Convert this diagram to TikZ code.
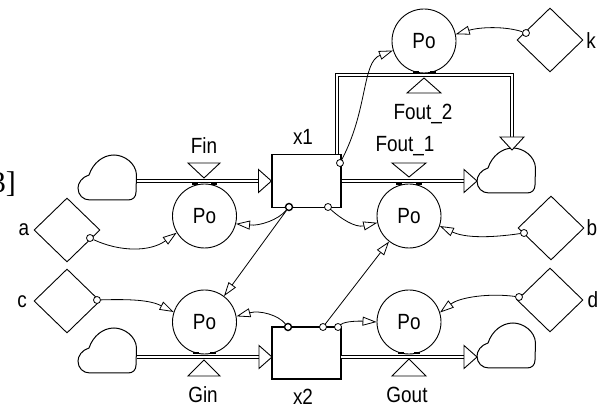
\documentclass[tikz,border=0pt]{standalone}
\usepackage{fontspec}
\setmainfont{Liberation Sans}[FakeStretch=0.86]
\newfontfamily\serifnum{Liberation Serif}
\usetikzlibrary{arrows.meta,shapes.geometric,calc}
\tikzset{
  lab/.style={font=\fontsize{22}{26}\selectfont, inner sep=0pt},
  pipe/.style={double, double distance=2.2pt, line width=1pt},
  tri/.style={draw, fill=white, line width=0.9pt, line join=miter},
  stock/.style={draw, line width=1.1pt, minimum width=69pt, minimum height=53pt, inner sep=0pt},
  conv/.style={draw, circle, line width=0.9pt, minimum size=64pt, inner sep=0pt, font=\fontsize{22}{26}\selectfont},
  param/.style={draw, diamond, line width=0.9pt, minimum width=66pt, minimum height=64pt, inner sep=0pt},
  src/.style={draw, circle, line width=0.8pt, minimum size=7pt, inner sep=0pt, fill=white},
  link/.style={line width=0.8pt, -{Triangle[open, length=14pt, width=9pt]}},
  junc/.style={line width=2pt},
  cloudline/.style={line width=1pt, fill=white},
  cloudpic/.pic={\draw[cloudline] (12,45) -- (50,45) .. controls (55,45) and (58,42) .. (58,37) -- (58.5,20) .. controls (58,8) and (46,0) .. (36,0) .. controls (25,0) and (15,8) .. (11,20) .. controls (4,22) and (0,28) .. (0,33) .. controls (0,40) and (5,45) .. (12,45) -- cycle;}
}
\begin{document}
\begin{tikzpicture}[x=1pt,y=-1pt]
\useasboundingbox (0,0) rectangle (608,411);

% stocks
\node[stock] (x1) at (306.5,181) {};
\node[stock, minimum height=52pt] (x2) at (306.5,353) {};

% coordinates for flow ends
\coordinate (c1r) at (136,181);
\coordinate (c2l) at (477,181);
\coordinate (c2t) at (512,150);
\coordinate (c3r) at (137,357);
\coordinate (c4l) at (477,357);
\coordinate (x1top) at (337,154.5);
\coordinate (tc) at (337,75);
\coordinate (x2in) at (272,357);
\coordinate (x2out) at (341,357);

% pipes
\draw[pipe] (c1r) -- ($(x1.west)+(-13,0)$);
\draw[pipe] (x1.east) -- ($(c2l)+(-13,0)$);
\draw[pipe] (x1top) -- (tc) -| ($(c2t)+(0,-13)$);
\draw[pipe] (c3r) -- ($(x2in)+(-13,0)$);
\draw[pipe] (x2out) -- ($(c4l)+(-13,0)$);

% clouds
\pic at (78,155) {cloudpic};
\pic at (477,148) {cloudpic};
\pic at (78,328) {cloudpic};
\pic at (477,323) {cloudpic};

% flow arrow heads
\draw[tri] (x1.west) -- ++(-13,-11.5) -- ++(0,23) -- cycle;
\draw[tri] (c2l) -- ++(-13,-11.5) -- ++(0,23) -- cycle;
\draw[tri] (c2t) -- ++(-12,-13) -- ++(24,0) -- cycle;
\draw[tri] (x2in) -- ++(-13,-11.5) -- ++(0,23) -- cycle;
\draw[tri] (c4l) -- ++(-13,-11.5) -- ++(0,23) -- cycle;

% valves
\draw[tri] (188,163) -- (220,163) -- (204,178) -- cycle;
\draw[tri] (392,163) -- (426,163) -- (409,177) -- cycle;
\draw[tri] (407,93) -- (441,93) -- (424,78) -- cycle;
\draw[tri] (188,376) -- (220,376) -- (204,360) -- cycle;
\draw[tri] (392,376) -- (426,376) -- (409,359) -- cycle;

% converters
\node[conv] (P1) at (204.5,216) {Po};
\node[conv] (P2) at (409,216) {Po};
\node[conv] (P3) at (204.5,322) {Po};
\node[conv] (P4) at (409,322) {Po};
\node[conv] (P5) at (424,41) {Po};

% junction marks
\draw[junc] (192,184.5) -- (198,184.5) (211,184.5) -- (217,184.5);
\draw[junc] (396,184.5) -- (402,184.5) (416,184.5) -- (422,184.5);
\draw[junc] (193,353.5) -- (199,353.5) (210,353.5) -- (216,353.5);
\draw[junc] (398,353.5) -- (404,353.5) (414,353.5) -- (420,353.5);
\draw[junc] (413,72) -- (419,72) (430,72) -- (436,72);

% parameters
\node[param] (a) at (67,230) {};
\node[param] (c) at (67,301) {};
\node[param] (b) at (551,228) {};
\node[param] (d) at (550,300) {};
\node[param] (k) at (550,40) {};

% labels
\node[lab] (la) at (24,230) {a};
\node[lab] (lc) at (22,302) {c};
\node[lab] (lb) at (592,228) {b};
\node[lab] (ld) at (593,300) {d};
\node[lab] (lk) at (591,41) {k};
\node[lab, anchor=base] (lfin) at (204,154) {Fin};
\node[lab, anchor=base] (lx1) at (303,145) {x1};
\node[lab, anchor=base] (lf1) at (405,152) {Fout\_1};
\node[lab, anchor=base] (lf2) at (423,120) {Fout\_2};
\node[lab, anchor=base] (lgin) at (203,403) {Gin};
\node[lab, anchor=base] (lx2) at (303,405) {x2};
\node[lab, anchor=base] (lgout) at (407,403) {Gout};
\node[anchor=base east, inner sep=0pt, font=\serifnum\fontsize{30}{30}\selectfont] (l3) at (16,193) {3]};

% link sources
\node[src] (ka) at (526,33) {};
\node[src] (aa) at (90,238) {};
\node[src] (ca) at (97,300) {};
\node[src] (ba) at (524,233) {};
\node[src] (da) at (519,297) {};
\node[src] (x1r) at (340,163) {};
\node[src, line width=1.4pt] (x1a) at (289,207) {};
\node[src] (x1b) at (328,207) {};
\node[src, line width=1.4pt] (x2a) at (288,327) {};
\node[src] (x2b) at (323,327) {};
\node[src] (x2c) at (338,327) {};

% links
\draw[link] (ka) .. controls (505,26) and (480,27) .. (P5.12);
\draw[link] (x1r) .. controls (368,110) and (362,62) .. (P5.197);
\draw[link] (aa) .. controls (120,252) and (150,252) .. (P1.211);
\draw[link] (ca) .. controls (130,299) and (150,300) .. (P3.162);
\draw[link] (x1a) .. controls (278,220) and (260,226) .. (P1.346);
\draw[link] (x1a) -- (P3.53);
\draw[link] (x1b) .. controls (340,218) and (355,228) .. (P2.192);
\draw[link] (x2a) .. controls (278,315) and (260,310) .. (P3.10);
\draw[link] (x2b) -- (P2.232);
\draw[link] (x2c) .. controls (345,321) and (360,321) .. (P4.180);
\draw[link] (ba) .. controls (490,238) and (465,238) .. (P2.-18);
\draw[link] (da) .. controls (490,293) and (460,297) .. (P4.17);
\end{tikzpicture}
\end{document}
